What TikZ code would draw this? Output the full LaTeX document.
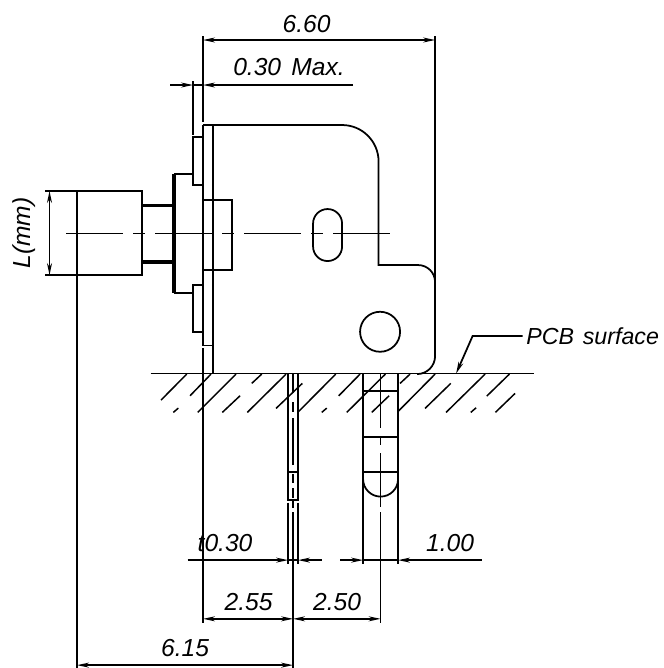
\documentclass[tikz,border=0pt]{standalone}
\usepackage{fontspec}
\setmainfont{Liberation Sans}
\usetikzlibrary{arrows.meta}
\tikzset{
  >={Stealth[length=2.4mm,width=1mm]},
  outline/.style={line width=1pt},
  heavy/.style={line width=1.8pt},
  thinline/.style={line width=0.85pt},
  axisline/.style={line width=0.8pt,dash pattern=on 1.14cm off 0.2cm on 0.24cm off 0.2cm},
  dimtext/.style={inner sep=0pt,font=\fontsize{14}{16}\selectfont\itshape}
}
\begin{document}
\begin{tikzpicture}
  \useasboundingbox (0,0) rectangle (13.28,-13.36);
  % Work in pixels of the drawing, with (0,0) at the top left
  \begin{scope}[x=0.02cm,y=-0.02cm]
    % Knob and shaft
    \draw[outline] (77,191) rectangle (142,275);
    \draw[heavy] (142,205.5) -- (174,205.5);
    \draw[heavy] (142,262) -- (174,262);
    \draw[heavy] (174,174) -- (174,293);
    \draw[outline] (174,174) -- (193,174);
    \draw[outline] (174,293) -- (193,293);

    % Small plates on the front of the body
    \draw[outline] (203,137) -- (193,137) -- (193,185) -- (203,185);
    \draw[outline] (203,285) -- (193,285) -- (193,332) -- (203,332);
    \draw[outline] (203,200) -- (232,200) -- (232,270) -- (203,270);

    % Body outline
    \draw[thinline] (203,125) -- (203,345.5) -- (213,345.5);
    \draw[outline] (213,125) -- (213,374);
    \draw[outline] (203,125) -- (342,125) arc[start angle=-90,end angle=0,radius=36.5]
      -- (378.5,265) -- (418,265) arc[start angle=-90,end angle=0,radius=17]
      -- (435,356) arc[start angle=0,end angle=90,radius=18];

    % Slot and hole
    \draw[outline] (313,223.5) arc[start angle=180,end angle=360,radius=14.5]
      -- (342,246.5) arc[start angle=0,end angle=180,radius=14.5] -- cycle;
    \draw[outline] (380,331.7) circle (20);

    % Centre line
    \draw[axisline] (66,233.5) -- (390,233.5);

    % PCB surface and hatching
    \draw[outline] (150.5,373.5) -- (534,373.5);
    \foreach \xa/\ya/\xb/\yb in {186.7/374/161/400, 178.3/408/173.3/412.3, 211/374/190/395.7,
      236/374/197.7/412.3, 261.7/374/251.7/383.3, 240/395.7/222.3/412.3, 286/374/247.3/412.3,
      302.3/383.3/276/408.3, 335.7/374/297.7/412.3, 326.7/408/321.7/412.3, 360/374/338.7/395.7,
      385.3/374/346.7/412.3, 389/395.7/371.7/412.3, 410/374/400/383.3, 435/374/397.7/411.7,
      450.7/383.3/425/408.3, 485/374/446/412.3, 476/407.7/470.7/412.3, 509.3/374/486.7/396,
      515/393.3/495.3/412.3}
    \draw[thinline] (\xa,\ya) -- (\xb,\yb);

    % PCB surface leader
    \draw[outline,->] (522.5,336) -- (472.5,336) -- (456,373.5);
    \node[dimtext,anchor=west,font=\fontsize{13.2}{16}\selectfont\itshape] (pcbtext) at (526,336) {PCB\hspace{0.1em} surface};

    % First pin
    \draw[outline] (288,374) -- (288,500) -- (298,500) -- (298,374);
    \draw[outline] (288,471.7) -- (298,471.7);
    \draw[thinline] (288,502.5) -- (288,564);
    \draw[thinline] (298,502.5) -- (298,564);
    \foreach \ya/\yb in {374/393, 402/412, 418/465, 474/483, 488/498, 501/508, 512/668}
    \draw[outline] (293,\ya) -- (293,\yb);

    % Second pin
    \draw[outline] (363,374) -- (363,564);
    \draw[outline] (398,374) -- (398,564);
    \draw[outline] (363,391) -- (398,391);
    \draw[outline] (363,436.7) -- (398,436.7);
    \draw[outline] (363,471.7) -- (398,471.7);
    \draw[outline] (363,479) arc[start angle=180,end angle=0,radius=17.5];
    \foreach \ya/\yb in {374/428, 438/445, 453/507, 512/623}
    \draw[thinline] (380.5,\ya) -- (380.5,\yb);

    % Extension lines
    \draw[thinline] (45,191) -- (77,191);
    \draw[thinline] (45,275) -- (77,275);
    \draw[thinline] (77,275) -- (77,668);
    \draw[thinline] (203,36) -- (203,122);
    \draw[thinline] (193,81) -- (193,135);
    \draw[thinline] (435,36) -- (435,282);
    \draw[thinline] (203,348) -- (203,623);

    % Dimension lines
    \draw[thinline,<->] (203,40) -- (435,40);
    \draw[thinline,->] (170,85) -- (193,85);
    \draw[thinline,->] (353,85) -- (203,85);
    \draw[thinline] (193,85) -- (203,85);
    \draw[thinline,<->] (49.5,191) -- (49.5,275);
    \draw[thinline,->] (187.5,560) -- (288,560);
    \draw[thinline,->] (321.5,560) -- (298,560);
    \draw[thinline] (288,560) -- (298,560);
    \draw[thinline,->] (340,560) -- (363,560);
    \draw[thinline,->] (481.5,560) -- (398,560);
    \draw[thinline] (363,560) -- (398,560);
    \draw[thinline,<->] (203,618.7) -- (293,618.7);
    \draw[thinline,<->] (293,618.7) -- (380.5,618.7);
    \draw[thinline,<->] (77,665) -- (293,665);

    % Dimension texts
    \node[dimtext] (sixsixty) at (306.5,24) {6.60};
    \node[dimtext] (thirtymax) at (289,67.5) {0.30\hspace{0.42em}Max.};
    \node[dimtext,rotate=90] (lengthmm) at (24,233) {L(mm)};
    \node[dimtext] (tthirty) at (225,543) {t0.30};
    \node[dimtext] (onezero) at (450,543) {1.00};
    \node[dimtext] (twofive) at (248.5,602) {2.55};
    \node[dimtext] (twofifty) at (337,602) {2.50};
    \node[dimtext] (sixfifteen) at (185,647.5) {6.15};
  \end{scope}
\end{tikzpicture}
\end{document}
